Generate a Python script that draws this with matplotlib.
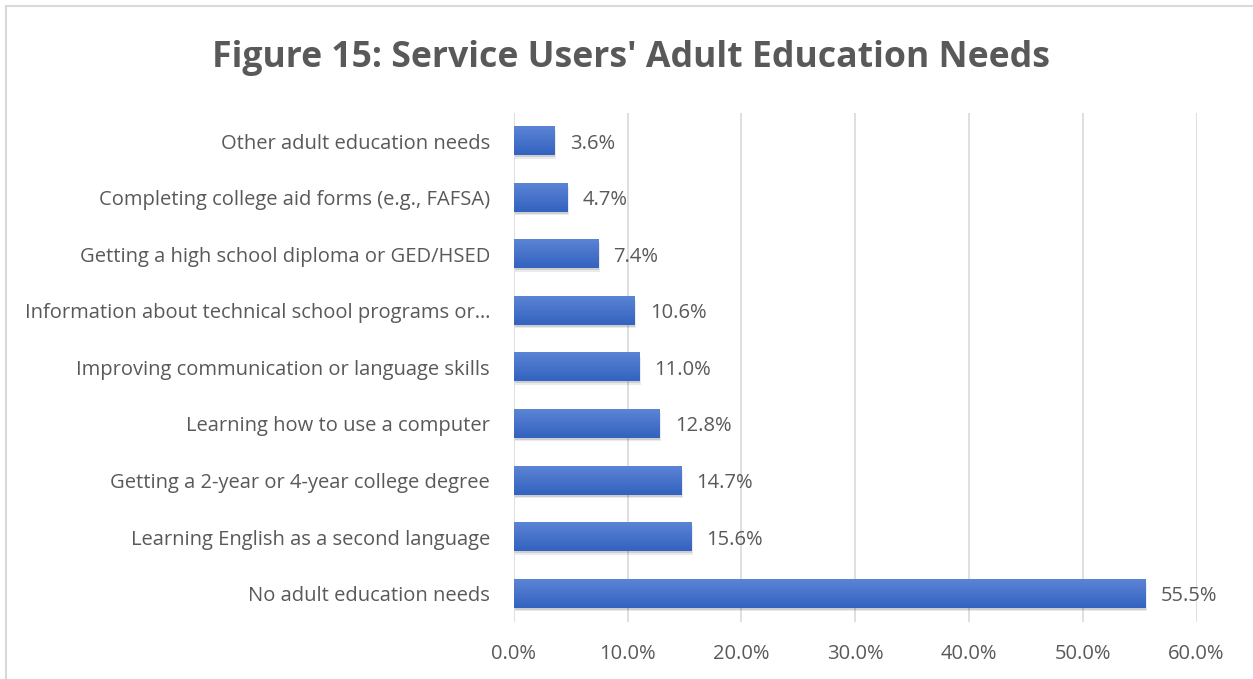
import numpy as np
import matplotlib.pyplot as plt
from matplotlib.patches import Rectangle
from matplotlib.colors import LinearSegmentedColormap
from matplotlib.ticker import FuncFormatter, MultipleLocator

categorias = [
    'No adult education needs',
    'Learning English as a second language',
    'Getting a 2-year or 4-year college degree',
    'Learning how to use a computer',
    'Improving communication or language skills',
    'Information about technical school programs or\u2026',
    'Getting a high school diploma or GED/HSED',
    'Completing college aid forms (e.g., FAFSA)',
    'Other adult education needs',
]
valores = [55.5, 15.6, 14.7, 12.8, 11.0, 10.6, 7.4, 4.7, 3.6]

GRIS = '#595959'
plt.rcParams['font.family'] = ['Open Sans', 'DejaVu Sans']

fig = plt.figure(figsize=(12.53, 6.79), dpi=100)
fig.patch.set_facecolor('white')
ax = fig.add_axes([0.410, 0.084, 0.545, 0.750])

y = np.arange(len(categorias))
# sombra
ax.barh(y - 0.06, valores, height=0.5, left=0.14, color='#000000', alpha=0.08, zorder=2)
ax.barh(y - 0.035, valores, height=0.5, left=0.07, color='#000000', alpha=0.12, zorder=2)
barras = ax.barh(y, valores, height=0.5, color='#4472C4', zorder=3)

# degradado vertical en cada barra
grad = np.linspace(0, 1, 64).reshape(-1, 1)
cmap = LinearSegmentedColormap.from_list('azul', ['#5B84D4', '#3362C0'])
for b in barras:
    x0, y0 = b.get_x(), b.get_y()
    w, h = b.get_width(), b.get_height()
    ax.imshow(grad, extent=[x0, x0 + w, y0, y0 + h], cmap=cmap, aspect='auto',
              zorder=4, origin='upper')

for yi, v in zip(y, valores):
    ax.text(v + 1.35, yi, f'{v:.1f}%', va='center_baseline', ha='left', fontsize=14.5, color=GRIS)

ax.set_xlim(0, 60)
ax.set_ylim(-0.5, len(categorias) - 0.5)
ax.xaxis.set_major_locator(MultipleLocator(10))
ax.xaxis.set_major_formatter(FuncFormatter(lambda v, p: f'{v:.1f}%'))
ax.set_yticks(y)
ax.set_yticklabels(categorias)
ax.tick_params(axis='both', length=0, labelsize=14.5, colors=GRIS)
ax.tick_params(axis='y', pad=17)
ax.tick_params(axis='x', pad=16)
ax.grid(axis='x', color='#D9D9D9', linewidth=1.2, zorder=0)
ax.set_axisbelow(True)
for s in ax.spines.values():
    s.set_visible(False)

fig.text(0.5036, 0.914, "Figure 15: Service Users' Adult Education Needs", ha='center', va='center',
         fontsize=25.7, fontweight='bold', color=GRIS)

fig.patches.append(Rectangle((6 / 1253, -0.1), 1.2, 1.1 - 6 / 679, transform=fig.transFigure,
                             fill=False, edgecolor='#D9D9D9', linewidth=1.5))

fig.savefig('out.png', dpi=100, facecolor='white')
